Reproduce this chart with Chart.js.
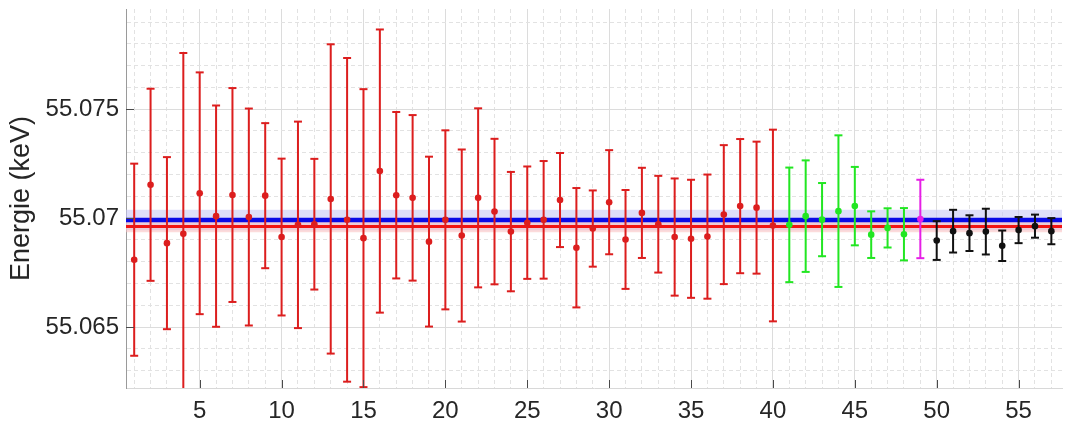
<!DOCTYPE html>
<html lang="de">
<head>
  <meta charset="UTF-8">
  <title>Energie (keV)</title>
  <script src="https://cdn.jsdelivr.net/npm/chart.js"></script>
  <style>
    body { margin: 0; background: #ffffff; }
    .wrap { width: 1068px; height: 427px; }
  </style>
</head>
<body>
<div class="wrap">
  <canvas id="energyChart" width="1068" height="427"></canvas>
</div>
<script>
  // measured energies per run (keV) and their uncertainties
  const values = [
    55.06809, 55.07153, 55.06885, 55.06928, 55.07114, 55.07009, 55.07106, 55.07005, 55.07103, 55.06913,
    55.06969, 55.06972, 55.07088, 55.06992, 55.06908, 55.07216, 55.07105, 55.07093, 55.06892, 55.06992,
    55.06920, 55.07093, 55.07030, 55.06938, 55.06979, 55.06992, 55.07083, 55.06864, 55.06952, 55.07073,
    55.06902, 55.07024, 55.06972, 55.06913, 55.06905, 55.06915, 55.07016, 55.07055, 55.07048, 55.06966,
    55.06969, 55.07009, 55.06993, 55.07032, 55.07055, 55.06924, 55.06955, 55.06926,
    55.06996,
    55.06897, 55.06940, 55.06931, 55.06938, 55.06873, 55.06945, 55.06963, 55.06940
  ];
  const errors = [
    0.00441, 0.00441, 0.00395, 0.00830, 0.00555, 0.00508, 0.00491, 0.00498, 0.00333, 0.00360,
    0.00474, 0.00300, 0.00710, 0.00743, 0.00684, 0.00650, 0.00382, 0.00380, 0.00390, 0.00411,
    0.00395, 0.00411, 0.00334, 0.00274, 0.00258, 0.00270, 0.00216, 0.00274, 0.00175, 0.00239,
    0.00227, 0.00207, 0.00222, 0.00269, 0.00271, 0.00285, 0.00319, 0.00308, 0.00303, 0.00440,
    0.00263, 0.00256, 0.00168, 0.00348, 0.00180, 0.00107, 0.00090, 0.00120,
    0.00180,
    0.00089, 0.00098, 0.00082, 0.00105, 0.00070, 0.00060, 0.00053, 0.00060
  ];
  // runs are grouped by colour
  const groupSizes = [40, 8, 1, 8];
  const groupColors = ['#dc1e1e', '#22e622', '#e61ee6', '#111111'];

  // weighted means with their bands
  const blueMean = 55.06991, blueBand = 0.00047;
  const redMean = 55.06961, redBand = 0.00026;

  const xTicks = [5, 10, 15, 20, 25, 30, 35, 40, 45, 50, 55];
  const yTicks = [55.065, 55.07, 55.075];
  const xMin = 0.5, xMax = 57.65;
  const yMin = 55.0622, yMax = 55.0796;

  const datasets = [];

  // bands + mean lines
  datasets.push({
    type: 'line', data: [{x: xMin, y: blueMean + blueBand}, {x: xMax, y: blueMean + blueBand}],
    borderWidth: 0, pointRadius: 0, backgroundColor: 'rgba(200,200,245,0.6)',
    fill: {value: blueMean - blueBand}, order: 20
  });
  datasets.push({
    type: 'line', data: [{x: xMin, y: redMean + redBand}, {x: xMax, y: redMean + redBand}],
    borderWidth: 0, pointRadius: 0, backgroundColor: 'rgba(250,190,190,0.55)',
    fill: {value: redMean - redBand}, order: 19
  });
  datasets.push({
    type: 'line', data: [{x: xMin, y: blueMean}, {x: xMax, y: blueMean}],
    borderColor: '#0a0ae6', borderWidth: 4.5, pointRadius: 0, fill: false, order: 18
  });
  datasets.push({
    type: 'line', data: [{x: xMin, y: redMean}, {x: xMax, y: redMean}],
    borderColor: '#f01414', borderWidth: 3, pointRadius: 0, fill: false, order: 17
  });

  // error bars and dots per group
  let start = 0;
  groupSizes.forEach((n, g) => {
    const bars = [];
    const dots = [];
    for (let i = start; i < start + n; i++) {
      const run = i + 1;
      bars.push({x: run, y: values[i] - errors[i]});
      bars.push({x: run, y: values[i] + errors[i]});
      bars.push({x: run, y: null});
      dots.push({x: run, y: values[i]});
    }
    datasets.push({
      type: 'line', data: bars, spanGaps: false,
      borderColor: groupColors[g], borderWidth: 2,
      pointStyle: 'line', pointRadius: 4, pointBorderWidth: 2,
      pointBorderColor: groupColors[g], fill: false, order: 5
    });
    datasets.push({
      type: 'scatter', data: dots,
      pointRadius: 3.3, pointBackgroundColor: groupColors[g],
      pointBorderColor: groupColors[g], pointBorderWidth: 0, order: 1
    });
    start += n;
  });

  const isMajor = (v, step) => Math.abs(v / step - Math.round(v / step)) < 1e-6;

  // short inward tick marks like the original
  const innerTicks = {
    id: 'innerTicks',
    afterDatasetsDraw(chart) {
      const {ctx, chartArea, scales} = chart;
      ctx.save();
      ctx.strokeStyle = '#4a4a4a';
      ctx.lineWidth = 1;
      ctx.beginPath();
      xTicks.forEach(v => {
        const px = Math.round(scales.x.getPixelForValue(v)) + 0.5;
        ctx.moveTo(px, chartArea.bottom);
        ctx.lineTo(px, chartArea.bottom - 8);
      });
      yTicks.forEach(v => {
        const py = Math.round(scales.y.getPixelForValue(v)) + 0.5;
        ctx.moveTo(chartArea.left, py);
        ctx.lineTo(chartArea.left + 8, py);
      });
      ctx.stroke();
      ctx.restore();
    }
  };

  const noPad = s => {
    s.paddingTop = 0; s.paddingBottom = 0;
    s.paddingLeft = 0; s.paddingRight = 0;
  };

  const font = {family: 'Liberation Sans, Arial, sans-serif', size: 24};

  new Chart(document.getElementById('energyChart'), {
    type: 'scatter',
    data: {datasets},
    plugins: [innerTicks],
    options: {
      responsive: false,
      animation: false,
      layout: {padding: {top: 9, right: 0, left: 0, bottom: 0}},
      plugins: {legend: {display: false}, tooltip: {enabled: false}},
      scales: {
        x: {
          type: 'linear', min: xMin, max: xMax,
          afterBuildTicks: axis => {
            const t = [];
            for (let v = 1; v <= 57; v++) t.push({value: v});
            axis.ticks = t;
          },
          afterFit: s => { s.height = 39; noPad(s); },
          ticks: {
            font, color: '#262626', padding: 9, maxRotation: 0, autoSkip: false,
            callback: v => xTicks.includes(v) ? String(v) : ''
          },
          grid: {
            drawTicks: false,
            color: ctx => ctx.tick && xTicks.includes(ctx.tick.value) ? '#dcdcdc' : '#e2e2e2',
            lineWidth: 1
          },
          border: {
            display: true, color: '#d8d8d8',
            dash: ctx => ctx.tick && xTicks.includes(ctx.tick.value) ? [] : [4, 3]
          }
        },
        y: {
          type: 'linear', min: yMin, max: yMax,
          afterBuildTicks: axis => {
            const t = [];
            for (let k = 55063; k <= 55079; k++) t.push({value: k / 1000});
            axis.ticks = t;
          },
          afterFit: s => { s.width = 126; noPad(s); },
          ticks: {
            font, color: '#262626', padding: 7, autoSkip: false,
            callback: v => isMajor(v, 0.005) ? String(parseFloat(v.toFixed(3))) : ''
          },
          grid: {
            drawTicks: false,
            color: ctx => ctx.tick && isMajor(ctx.tick.value, 0.005) ? '#dcdcdc' : '#e2e2e2',
            lineWidth: 1
          },
          border: {
            display: true, color: '#9a9a9a',
            dash: ctx => ctx.tick && isMajor(ctx.tick.value, 0.005) ? [] : [4, 3]
          },
          title: {
            display: true, text: 'Energie (keV)', color: '#262626',
            font: {family: 'Liberation Sans, Arial, sans-serif', size: 27},
            padding: {top: 5, bottom: 0}
          }
        }
      }
    }
  });
</script>
</body>
</html>
